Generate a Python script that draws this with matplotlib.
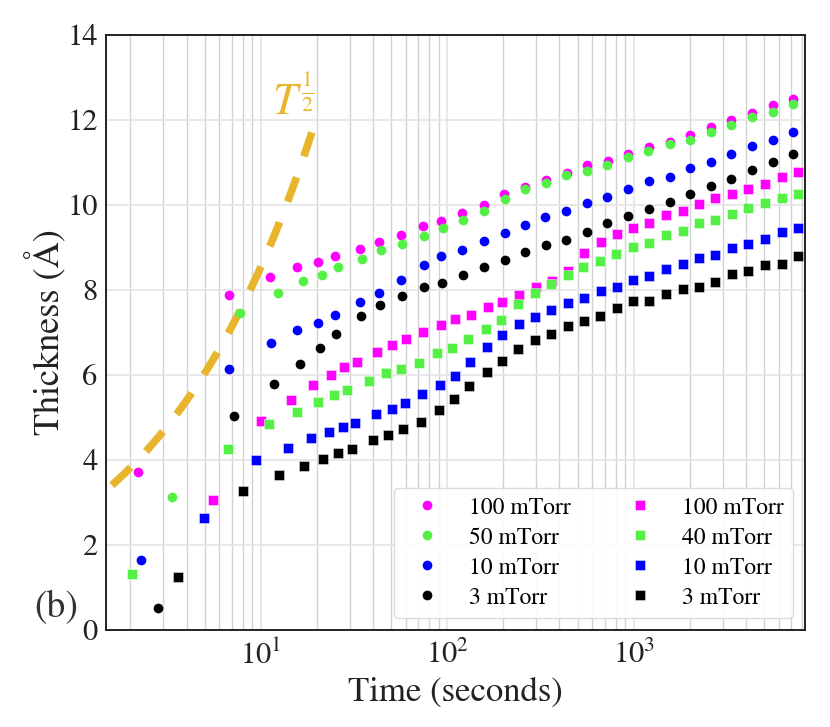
import numpy as np
import matplotlib
matplotlib.use("Agg")
import matplotlib.pyplot as plt
from matplotlib.ticker import LogLocator, NullFormatter

plt.rcParams['font.family'] = ['STIXGeneral', 'Liberation Serif', 'DejaVu Serif']
plt.rcParams['mathtext.fontset'] = 'stix'

# ---- data: circles ----
t_c100 = [2.20, 6.75, 11.25, 15.7, 20.3, 24.9, 34.0, 43.1, 56.5, 74.6, 92.9, 120.8, 157.8, 202.9,
          263, 338, 438, 563, 728, 931, 1205, 1563, 2000, 2594, 3334, 4315, 5598, 7194]
y_c100 = [3.72, 7.89, 8.31, 8.53, 8.67, 8.81, 8.96, 9.14, 9.30, 9.50, 9.63, 9.81, 10.01, 10.25,
          10.43, 10.60, 10.76, 10.93, 11.04, 11.19, 11.36, 11.49, 11.65, 11.83, 12.01, 12.16, 12.35, 12.49]
t_c50 = [3.35, 7.79, 12.4, 16.8, 21.4, 25.9, 35.0, 44.1, 57.5, 75.5, 94.4, 121.4, 158.5, 204,
         263, 338, 435, 563, 724, 935, 1200, 1563, 2010, 2593, 3343, 4318, 5597, 7195]
y_c50 = [3.14, 7.45, 7.93, 8.21, 8.36, 8.55, 8.72, 8.94, 9.09, 9.28, 9.45, 9.65, 9.85, 10.14,
         10.38, 10.52, 10.71, 10.81, 10.95, 11.13, 11.28, 11.44, 11.54, 11.72, 11.88, 12.08, 12.19, 12.38]
t_c10 = [2.28, 6.72, 11.3, 15.7, 20.3, 24.9, 34.0, 43.1, 56.6, 75.0, 92.9, 120.8, 157.8, 203,
         262, 336, 435, 563, 724, 935, 1206, 1560, 2000, 2594, 3343, 4318, 5598, 7195]
y_c10 = [1.65, 6.14, 6.75, 7.05, 7.23, 7.42, 7.71, 7.94, 8.23, 8.60, 8.79, 8.95, 9.16, 9.34,
         9.53, 9.72, 9.87, 10.05, 10.20, 10.38, 10.56, 10.67, 10.87, 11.02, 11.21, 11.38, 11.52, 11.71]
t_c3 = [2.80, 7.18, 11.8, 16.2, 20.8, 25.3, 34.4, 43.5, 57.2, 75.5, 93.6, 121.4, 157.8, 203,
        263, 338, 435, 563, 724, 935, 1206, 1560, 2000, 2594, 3343, 4318, 5598, 7195]
y_c3 = [0.52, 5.04, 5.79, 6.27, 6.64, 6.96, 7.40, 7.64, 7.87, 8.07, 8.17, 8.35, 8.53, 8.70,
        8.89, 9.07, 9.18, 9.36, 9.57, 9.74, 9.91, 10.08, 10.25, 10.45, 10.61, 10.83, 11.01, 11.20]

# ---- data: squares ----
t_s100 = [5.56, 9.98, 14.6, 19.0, 23.7, 28.1, 32.8, 42.0, 50.9, 60.3, 73.8, 92.1, 110.4, 133.4, 165,
          198, 244, 299, 363, 447, 543, 667, 816, 998, 1216, 1500, 1836, 2245, 2746, 3375, 4127,
          5073, 6234, 7628]
y_s100 = [3.06, 4.91, 5.42, 5.77, 6.01, 6.20, 6.31, 6.53, 6.70, 6.84, 7.01, 7.18, 7.32, 7.42, 7.59,
          7.71, 7.88, 8.06, 8.22, 8.45, 8.86, 9.13, 9.31, 9.47, 9.58, 9.77, 9.87, 10.03, 10.17, 10.25,
          10.38, 10.50, 10.66, 10.77]
t_s40 = [2.05, 6.64, 11.1, 15.6, 20.2, 24.8, 29.2, 38.3, 47.1, 56.6, 70.2, 88.7, 106, 130, 162,
         194, 240, 297, 360, 444, 538, 664, 809, 998, 1216, 1500, 1836, 2245, 2746, 3375, 4127,
         5073, 6234, 7628]
y_s40 = [1.32, 4.25, 4.84, 5.14, 5.37, 5.52, 5.65, 5.87, 6.04, 6.15, 6.29, 6.51, 6.64, 6.85, 7.09,
         7.29, 7.66, 7.94, 8.14, 8.36, 8.53, 8.69, 8.84, 9.02, 9.10, 9.29, 9.40, 9.57, 9.64, 9.79,
         9.92, 10.05, 10.16, 10.27]
t_s10 = [4.98, 9.38, 14.0, 18.5, 23.1, 27.7, 32.1, 41.3, 50.5, 59.6, 73.5, 91.4, 110, 133, 164,
         197, 242, 297, 362, 445, 543, 667, 813, 998, 1216, 1500, 1836, 2245, 2746, 3375, 4127,
         5073, 6234, 7628]
y_s10 = [2.64, 4.01, 4.29, 4.52, 4.67, 4.78, 4.86, 5.08, 5.21, 5.33, 5.55, 5.76, 5.98, 6.30, 6.67,
         6.93, 7.21, 7.36, 7.53, 7.69, 7.82, 7.98, 8.07, 8.24, 8.34, 8.49, 8.61, 8.75, 8.83, 8.99,
         9.09, 9.20, 9.36, 9.47]
t_s3 = [3.61, 8.05, 12.6, 17.0, 21.7, 26.1, 31.0, 40.0, 48.4, 58.1, 72.0, 90.3, 109, 131, 163,
        196, 241, 296, 360, 445, 541, 664, 813, 998, 1216, 1500, 1836, 2245, 2746, 3375, 4127,
        5073, 6234, 7628]
y_s3 = [1.24, 3.27, 3.65, 3.87, 4.02, 4.16, 4.27, 4.47, 4.59, 4.73, 4.90, 5.17, 5.43, 5.75, 6.08,
        6.34, 6.61, 6.83, 6.97, 7.15, 7.27, 7.40, 7.58, 7.74, 7.75, 7.91, 8.02, 8.08, 8.20, 8.38,
        8.45, 8.58, 8.61, 8.79]

circle_labels = ['100 mTorr', '50 mTorr', '10 mTorr', '3 mTorr']
square_labels = ['100 mTorr', '40 mTorr', '10 mTorr', '3 mTorr']
colors = ['#ff00ff', '#55f046', '#0000ff', '#000000']

# guide line T^(1/2)
guide_t = np.geomspace(1.0, 18.8, 60)
guide_amp = 2.7
guide_color = '#e8b52c'

fig = plt.figure(figsize=(8.3, 7.27), dpi=100)
ax = fig.add_axes([106/830, 1-630/727, (805-106)/830, (630-35)/727])

ax.set_xscale('log')
ax.set_xlim(1.48, 8300)
ax.set_ylim(0, 14)

ax.set_axisbelow(True)
ax.grid(which='major', axis='both', color='#e4e4e4', lw=1.2)
ax.xaxis.set_minor_locator(LogLocator(base=10, subs=np.arange(2, 10), numticks=20))
ax.xaxis.set_minor_formatter(NullFormatter())
ax.grid(which='minor', axis='x', color='#d2d2d2', lw=1.0)

ax.plot(guide_t, guide_amp*np.sqrt(guide_t), color=guide_color, lw=5.5, dashes=(3.4, 2.9),
        solid_capstyle='butt', dash_capstyle='butt', zorder=2)
ax.text(15.0, 12.45, r'$T^{\frac{1}{2}}$', color=guide_color, fontsize=32,
        ha='center', va='center')

circ_t = [t_c100, t_c50, t_c10, t_c3]
circ_y = [y_c100, y_c50, y_c10, y_c3]
sq_t = [t_s100, t_s40, t_s10, t_s3]
sq_y = [y_s100, y_s40, y_s10, y_s3]

handles = []
for tt, yy, c, lab in zip(circ_t, circ_y, colors, circle_labels):
    h, = ax.plot(tt, yy, 'o', color=c, ms=7, mew=0, label=lab, zorder=3)
    handles.append(h)
for tt, yy, c, lab in zip(sq_t, sq_y, colors, square_labels):
    h, = ax.plot(tt, yy, 's', color=c, ms=7.4, mew=0.6, mec='#ffffff80', label=lab, zorder=3)
    handles.append(h)

leg = ax.legend(handles=handles, ncol=2, loc='lower right', fontsize=17, frameon=True,
                fancybox=True, edgecolor='#d8d8d8', framealpha=0.9, labelspacing=0.36,
                columnspacing=1.9)

ax.tick_params(axis='both', which='both', length=0, labelsize=22, colors='#222222', pad=6)
ax.tick_params(axis='x', pad=8)
ax.set_yticks(np.arange(0, 15, 2))

for s in ax.spines.values():
    s.set_color('#222222')
    s.set_linewidth(1.4)

ax.set_xlabel('Time (seconds)', fontsize=25, color='#222222', labelpad=4)
ax.set_ylabel('Thickness (Å)', fontsize=26, color='#222222', labelpad=0)

fig.text(56/830, 1-608/727, '(b)', fontsize=27, color='#333333', ha='center', va='center')

fig.savefig('out.png', dpi=100)
